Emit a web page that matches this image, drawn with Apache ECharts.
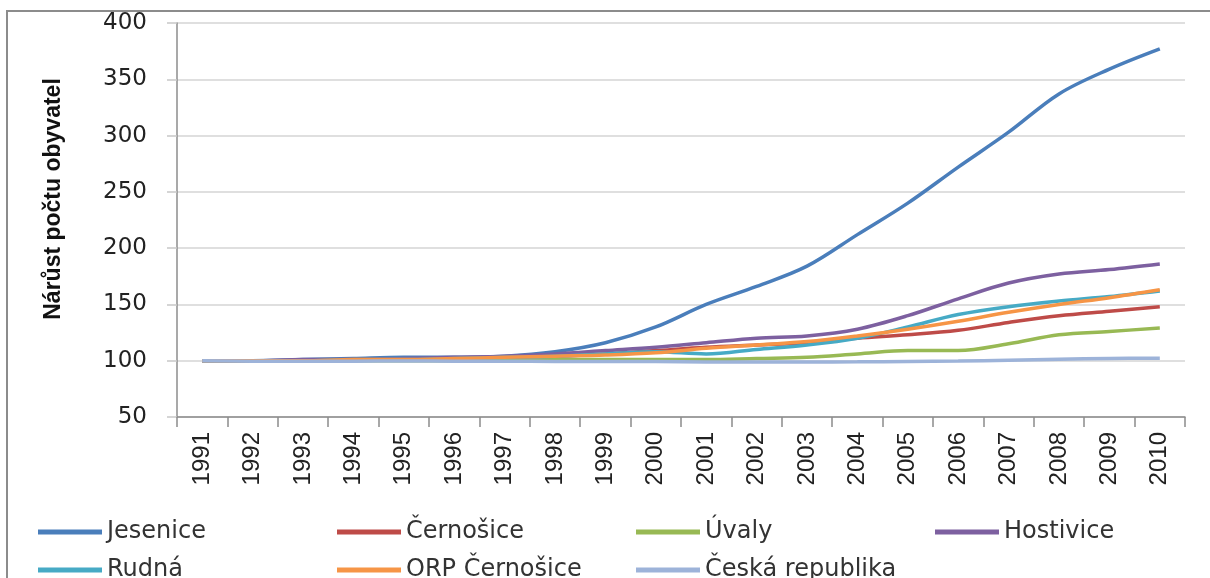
<!DOCTYPE html>
<html>
<head>
<meta charset="utf-8">
<script src="https://cdn.jsdelivr.net/npm/echarts@6/dist/echarts.min.js"></script>
<style>
html,body{margin:0;padding:0;background:#fff;}
#c{width:1210px;height:578px;}
</style>
</head>
<body>
<div id="c"></div>
<script>
const years = ['1991','1992','1993','1994','1995','1996','1997','1998','1999','2000','2001','2002','2003','2004','2005','2006','2007','2008','2009','2010'];
const jesenice = [100,100,101,102,103,103,104,108,116,130,150,166,184,212,240,272,303,337,359,377];
const cernosice = [100,100,100,101,101,102,103,104,106,109,112,114,116,120,123,127,134,140,144,148];
const uvaly = [100,100,100,100,100,100,100,101,101,101,101,102,103,106,109,109,115,123,126,129];
const hostivice = [100,100,101,101,102,103,104,106,109,112,116,120,122,128,140,155,169,177,181,186];
const rudna = [100,100,100,101,101,102,103,104,106,108,106,110,114,120,130,141,148,153,157,162];
const orp = [100,100,100,101,101,102,103,104,105,107,111,114,117,122,128,135,143,150,156,163];
const cr = [100,99.6,99.6,99.6,99.7,99.6,99.5,99.4,99.3,99.2,98.9,98.9,98.9,99.0,99.3,99.7,100.5,101.4,102.0,102.3];
const yTicks = {min:50, max:400, step:50};
const yTitle = 'Nárůst počtu obyvatel';

const names = ['Jesenice','Černošice','Úvaly','Hostivice','Rudná','ORP Černošice','Česká republika'];
const values = [jesenice, cernosice, uvaly, hostivice, rudna, orp, cr];
const colors = ['#4A7EBB','#BE4B48','#98B954','#7D60A0','#46AAC5','#F69546','#9DB3D9'];

const chart = echarts.init(document.getElementById('c'), null, {renderer:'canvas'});
const legendText = {fontFamily:'DejaVu Sans', fontSize:24, color:'#333', width:200, lineHeight:30};
chart.setOption({
  animation:false,
  backgroundColor:'#fff',
  color: colors,
  grid:{left:177, right:25, top:23, bottom:161, containLabel:false},
  legend:[
    {data:names.slice(0,4), left:33, top:512, icon:'rect', itemWidth:64, itemHeight:5, itemGap:30, textStyle:legendText, itemStyle:{borderWidth:0}},
    {data:names.slice(4), left:33, top:550, icon:'rect', itemWidth:64, itemHeight:5, itemGap:30, textStyle:legendText, itemStyle:{borderWidth:0}}
  ],
  xAxis:{
    type:'category', data:years, boundaryGap:true,
    axisLine:{show:true, lineStyle:{color:'#8c8c8c', width:1.5}},
    axisTick:{show:true, length:10, alignWithLabel:false, lineStyle:{color:'#8c8c8c', width:1.5}},
    axisLabel:{rotate:90, margin:15, fontFamily:'Liberation Sans', fontSize:24, color:'#222', interval:0},
    splitLine:{show:false}
  },
  yAxis:{
    type:'value', min:yTicks.min, max:yTicks.max, interval:yTicks.step,
    axisLine:{show:true, lineStyle:{color:'#8c8c8c', width:1.5}},
    axisTick:{show:true, length:10, lineStyle:{color:'#c8c8c8', width:1.5}},
    axisLabel:{margin:30, fontFamily:'DejaVu Sans', fontSize:23, color:'#222'},
    splitLine:{show:true, lineStyle:{color:'#d4d4d4', width:1.5}}
  },
  graphic:[
    {type:'rect', shape:{x:7, y:11, width:1260, height:640}, style:{fill:'none', stroke:'#8c8c8c', lineWidth:2}, silent:true, z:-1},
    {type:'text', x:54, y:199, rotation:Math.PI/2, style:{text:yTitle, fontFamily:'Liberation Sans', fontWeight:'bold', fontSize:23, fill:'#111', textAlign:'center', textVerticalAlign:'middle'}}
  ],
  series: names.map((n,i)=>({
    name:n, type:'line', data:values[i], smooth:0.35, symbol:'none', showSymbol:false,
    lineStyle:{width:3.5, color:colors[i]}, itemStyle:{color:colors[i]}
  }))
});
</script>
</body>
</html>
